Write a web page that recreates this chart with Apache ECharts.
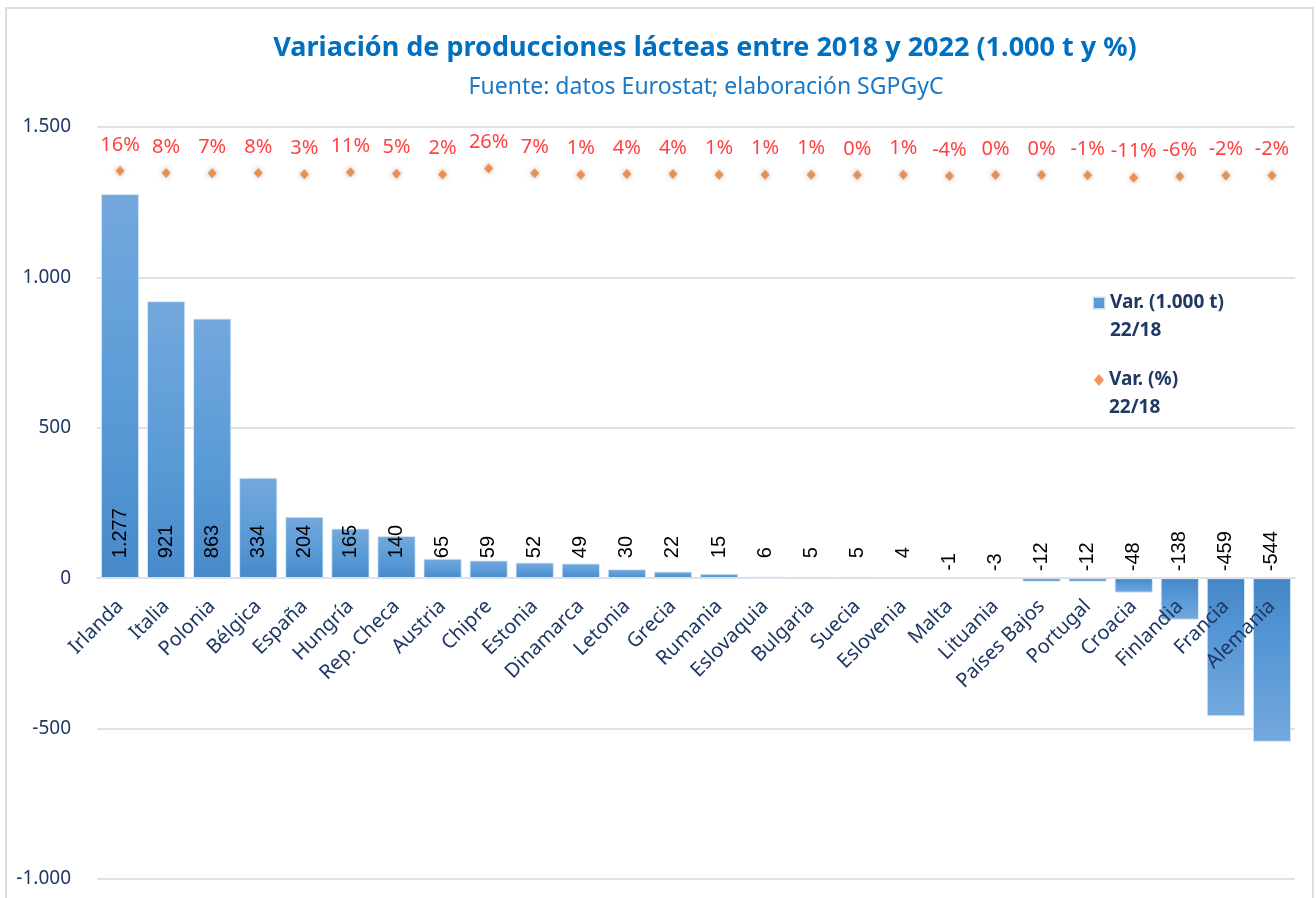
<!DOCTYPE html>
<html>
<head>
<meta charset="utf-8">
<script src="https://cdn.jsdelivr.net/npm/echarts@6/dist/echarts.min.js"></script>
<style>
  html, body { margin: 0; padding: 0; background: #fff; }
  #chart { width: 1316px; height: 898px; }
</style>
</head>
<body>
<div id="chart"></div>
<script>
// data
const countries = ['Irlanda', 'Italia', 'Polonia', 'Bélgica', 'España', 'Hungría', 'Rep. Checa', 'Austria',
    'Chipre', 'Estonia', 'Dinamarca', 'Letonia', 'Grecia', 'Rumania', 'Eslovaquia', 'Bulgaria', 'Suecia',
    'Eslovenia', 'Malta', 'Lituania', 'Países Bajos', 'Portugal', 'Croacia', 'Finlandia', 'Francia', 'Alemania'];
const varTonnes = [1277, 921, 863, 334, 204, 165, 140, 65, 59, 52, 49, 30, 22, 15, 6, 5, 5, 4, -1, -3, -12, -12, -48, -138, -459, -544];
const varPercent = [16, 8, 7, 8, 3, 11, 5, 2, 26, 7, 1, 4, 4, 1, 1, 1, 0, 1, -4, 0, 0, -1, -11, -6, -2, -2];
const yTicks = [-1000, -500, 0, 500, 1000, 1500];

const NAVY = '#1F3864';
const GRID_TOP = 127, GRID_BOTTOM = 19, CHART_H = 898;
const thousands = v => {
    const s = String(Math.abs(v)).replace(/\B(?=(\d{3})+(?!\d))/g, '.');
    return (v < 0 ? '-' : '') + s;
};

// the category axis sits on the zero line: lift it from the grid bottom
const yMin = yTicks[0], yMax = yTicks[yTicks.length - 1];
const plotH = CHART_H - GRID_TOP - GRID_BOTTOM;
const zeroLift = plotH * (0 - yMin) / (yMax - yMin);

const posGradient = new echarts.graphic.LinearGradient(0, 0, 0, 1, [
    { offset: 0, color: '#73A8DD' },
    { offset: 0.55, color: '#5A9BD7' },
    { offset: 1, color: '#4889CA' }
]);
const negGradient = new echarts.graphic.LinearGradient(0, 0, 0, 1, [
    { offset: 0, color: '#4586C6' },
    { offset: 0.45, color: '#5798D6' },
    { offset: 1, color: '#73A8DC' }
]);

const barData = varTonnes.map(v => ({
    value: v,
    itemStyle: { color: v >= 0 ? posGradient : negGradient },
    label: v >= 0
        ? { position: 'insideBottom', distance: 20 }
        : { position: 'top', distance: 7 }
}));

// legend text: blank first line so the icon sits level with the first text line
const legendText = name => '\u200B\n' + name.replace(' 22/18', '\n22/18');

const chart = echarts.init(document.getElementById('chart'));

const option = {
    animation: false,
    title: [{
        text: 'Variación de producciones lácteas entre 2018 y 2022 (1.000 t y %)',
        left: 700,
        top: 30,
        textAlign: 'center',
        textStyle: { fontFamily: 'Noto Sans', fontWeight: 'bold', fontSize: 27, color: '#0070C0' }
    }, {
        text: 'Fuente: datos Eurostat; elaboración SGPGyC',
        left: 701,
        top: 71,
        textAlign: 'center',
        textStyle: { fontFamily: 'Noto Sans', fontWeight: 'normal', fontSize: 23, color: '#1A78C8' }
    }],
    graphic: [{
        type: 'rect',
        shape: { x: 6, y: 8, width: 1307, height: 900 },
        style: { fill: 'none', stroke: '#D9DDE3', lineWidth: 2 },
        silent: true
    }],
    legend: [{
        data: [{ name: 'Var. (1.000 t) 22/18', icon: 'rect' }],
        orient: 'vertical',
        left: 1087,
        top: 256,
        itemWidth: 12,
        itemHeight: 12,
        formatter: legendText,
        textStyle: { fontFamily: 'Noto Sans', fontWeight: 'bold', fontSize: 19, color: NAVY, lineHeight: 28 }
    }, {
        data: [{ name: 'Var. (%) 22/18', icon: 'diamond' }],
        orient: 'vertical',
        left: 1089,
        top: 333,
        itemWidth: 10,
        itemHeight: 12,
        formatter: legendText,
        textStyle: { fontFamily: 'Noto Sans', fontWeight: 'bold', fontSize: 19, color: NAVY, lineHeight: 28 }
    }],
    grid: { left: 97, right: 21, top: GRID_TOP, bottom: GRID_BOTTOM, containLabel: false, outerBoundsMode: 'none' },
    xAxis: {
        type: 'category',
        data: countries,
        z: 10,
        offset: -zeroLift,
        axisLine: { onZero: false, lineStyle: { color: '#DDE2E9', width: 2 } },
        axisTick: { show: false },
        axisLabel: {
            interval: 0,
            rotate: 45,
            margin: 25,
            fontFamily: 'Noto Sans',
            fontSize: 20,
            color: NAVY
        }
    },
    yAxis: [{
        type: 'value',
        min: yMin,
        max: yMax,
        interval: 500,
        axisLine: { show: false },
        axisTick: { show: false },
        splitLine: { lineStyle: { color: '#DDE2E9', width: 2 } },
        axisLabel: {
            margin: 26,
            fontFamily: 'Noto Sans',
            fontSize: 19,
            color: NAVY,
            formatter: v => thousands(v)
        }
    }, {
        type: 'value',
        show: false,
        min: -2772,
        max: 189,
        splitLine: { show: false }
    }],
    series: [{
        name: 'Var. (1.000 t) 22/18',
        type: 'bar',
        data: barData,
        barCategoryGap: '17%',
        itemStyle: { borderColor: 'rgba(225,236,248,0.8)', borderWidth: 1, color: '#5B9BD5' },
        label: {
            show: true,
            rotate: 90,
            align: 'left',
            verticalAlign: 'middle',
            fontFamily: 'Liberation Sans',
            fontSize: 20,
            color: '#000',
            formatter: p => thousands(p.value)
        }
    }, {
        name: 'Var. (%) 22/18',
        type: 'scatter',
        yAxisIndex: 1,
        data: varPercent,
        symbol: 'diamond',
        symbolSize: [9, 10],
        itemStyle: { color: '#ED7D31', shadowBlur: 5, shadowColor: 'rgba(0,0,0,0.35)' },
        label: {
            show: true,
            position: 'top',
            distance: 11,
            fontFamily: 'Noto Sans',
            fontSize: 20,
            color: '#FF1010',
            formatter: p => p.value + '%'
        }
    }]
};

chart.setOption(option);
</script>
</body>
</html>
